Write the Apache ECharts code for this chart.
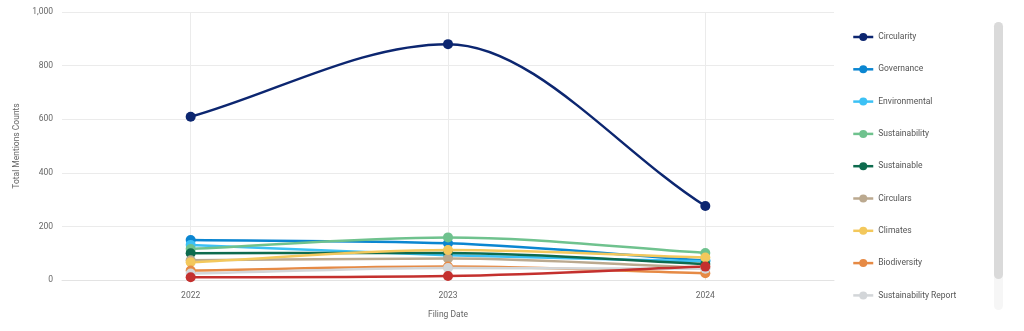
<!DOCTYPE html>
<html>
<head>
<meta charset="utf-8">
<script src="https://cdn.jsdelivr.net/npm/echarts@6/dist/echarts.min.js"></script>
<style>
  html, body { margin: 0; padding: 0; background: #ffffff; }
  #chart { width: 1024px; height: 331px; }
</style>
</head>
<body>
<div id="chart"></div>
<script>
// Filing years on the x axis
const years = ['2022', '2023', '2024'];

// Mention counts per term and filing year
const circularity = [609, 880, 276];
const governance = [149, 137, 73];
const environmental = [131, 92, 70];
const sustainability = [116, 159, 101];
const sustainable = [100, 101, 60];
const circulars = [74, 80, 45];
const climates = [66, 112, 84];
const biodiversity = [35, 50, 25];
const sustainabilityReport = [24, 45, 42];
const decarbonization = [10, 15, 50];

const seriesNames = ['Circularity', 'Governance', 'Environmental', 'Sustainability', 'Sustainable',
  'Circulars', 'Climates', 'Biodiversity', 'Sustainability Report', 'Decarbonization'];
const seriesValues = [circularity, governance, environmental, sustainability, sustainable,
  circulars, climates, biodiversity, sustainabilityReport, decarbonization];
const seriesColors = ['#0c2670', '#0b86d1', '#3cc1f5', '#6fc28e', '#0e6b4e',
  '#bba98f', '#f3c85c', '#e68a45', '#d3d6d9', '#c4302e'];

// The legend panel scrolls; only the first nine entries fit in view
const legendNames = seriesNames.slice(0, 9);

const FONT = 'Roboto, "Noto Sans", sans-serif';
const LINE_WIDTH = 2.5;

// Monotone cubic path (Fritsch-Carlson slopes) through pixel points
function monotonePath(pts) {
  const n = pts.length;
  if (n < 2) return '';
  const delta = [];
  for (let i = 0; i < n - 1; i++) {
    delta.push((pts[i + 1][1] - pts[i][1]) / (pts[i + 1][0] - pts[i][0]));
  }
  const m = new Array(n);
  m[0] = delta[0];
  m[n - 1] = delta[n - 2];
  for (let i = 1; i < n - 1; i++) {
    m[i] = (delta[i - 1] * delta[i] <= 0) ? 0 : (delta[i - 1] + delta[i]) / 2;
  }
  for (let i = 0; i < n - 1; i++) {
    if (delta[i] === 0) { m[i] = 0; m[i + 1] = 0; continue; }
    const a = m[i] / delta[i], b = m[i + 1] / delta[i];
    const s = a * a + b * b;
    if (s > 9) {
      const tau = 3 / Math.sqrt(s);
      m[i] = tau * a * delta[i];
      m[i + 1] = tau * b * delta[i];
    }
  }
  let d = 'M' + pts[0][0] + ' ' + pts[0][1];
  for (let i = 0; i < n - 1; i++) {
    const h = (pts[i + 1][0] - pts[i][0]) / 3;
    d += 'C' + (pts[i][0] + h) + ' ' + (pts[i][1] + m[i] * h) + ' ' +
      (pts[i + 1][0] - h) + ' ' + (pts[i + 1][1] - m[i + 1] * h) + ' ' +
      pts[i + 1][0] + ' ' + pts[i + 1][1];
  }
  return d;
}

const series = [];
seriesNames.forEach((name, k) => {
  const values = seriesValues[k];
  const color = seriesColors[k];
  // markers at each filing year
  series.push({
    name,
    type: 'line',
    data: values,
    symbol: 'circle',
    symbolSize: 10,
    showSymbol: true,
    lineStyle: { opacity: 0, width: LINE_WIDTH, color },
    itemStyle: { color },
    z: 2,
    emphasis: { disabled: true }
  });
  // smooth connecting curve, built from the axis coordinates of the values
  series.push({
    name,
    type: 'custom',
    data: values.map((v, i) => [i, v]),
    encode: { x: 0, y: 1 },
    z: 2,
    silent: true,
    renderItem: (params, api) => {
      if (params.dataIndex !== 0) return null;
      const pts = values.map((v, i) => api.coord([i, v]));
      return {
        type: 'path',
        shape: { pathData: monotonePath(pts) },
        style: { fill: 'none', stroke: color, lineWidth: LINE_WIDTH, lineJoin: 'round', lineCap: 'round' }
      };
    }
  });
});

const chart = echarts.init(document.getElementById('chart'), null, { renderer: 'canvas' });

chart.setOption({
  backgroundColor: '#ffffff',
  animation: false,
  color: seriesColors,
  textStyle: { fontFamily: FONT },
  grid: { left: 62, right: 190, top: 12, bottom: 51, containLabel: false },
  legend: {
    data: legendNames.map((name, i) => ({
      name,
      lineStyle: { color: seriesColors[i], width: LINE_WIDTH, opacity: 1 },
      itemStyle: { color: seriesColors[i] }
    })),
    orient: 'vertical',
    left: 847,
    top: 27,
    itemWidth: 20,
    itemHeight: 10,
    itemGap: 22.3,
    textStyle: { fontFamily: FONT, fontSize: 8.5, color: '#555555', lineHeight: 10 }
  },
  graphic: [
    // scrollbar track and thumb of the legend panel
    { type: 'rect', shape: { x: 994, y: 22, width: 9, height: 288, r: 4.5 }, style: { fill: '#f6f6f6' }, silent: true },
    { type: 'rect', shape: { x: 994, y: 22, width: 9, height: 257, r: 4.5 }, style: { fill: '#dadada' }, silent: true }
  ],
  xAxis: {
    type: 'category',
    data: years,
    boundaryGap: true,
    name: 'Filing Date',
    nameLocation: 'middle',
    nameGap: 30,
    nameTextStyle: { fontFamily: FONT, fontSize: 8.5, color: '#666666' },
    axisLine: { show: true, lineStyle: { color: '#e3e3e3', width: 1 } },
    axisTick: { show: false },
    axisLabel: { margin: 11, fontFamily: FONT, fontSize: 8.5, color: '#666666' },
    splitLine: { show: true, alignWithLabel: true, lineStyle: { color: '#ebebeb', width: 1 } }
  },
  yAxis: {
    type: 'value',
    min: 0,
    max: 1000,
    interval: 200,
    name: 'Total Mentions Counts',
    nameLocation: 'middle',
    nameGap: 39,
    nameTextStyle: { fontFamily: FONT, fontSize: 8.5, color: '#666666' },
    axisLine: { show: false },
    axisTick: { show: false },
    axisLabel: {
      margin: 9, fontFamily: FONT, fontSize: 8.5, color: '#666666',
      formatter: v => v.toLocaleString('en-US')
    },
    splitLine: { show: true, lineStyle: { color: '#ebebeb', width: 1 } }
  },
  series
});
</script>
</body>
</html>
